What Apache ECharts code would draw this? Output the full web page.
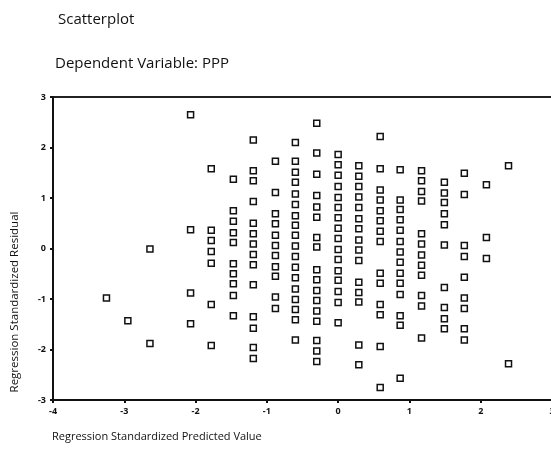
<!DOCTYPE html>
<html>
<head>
<meta charset="utf-8">
<script src="https://cdn.jsdelivr.net/npm/echarts@6/dist/echarts.min.js"></script>
<style>html,body{margin:0;padding:0;background:#fff;}#c{width:551px;height:461px;}</style>
</head>
<body>
<div id="c"></div>
<script>
// Predicted value columns (x) and residuals (y)
var predicted = [-3.25,-2.95,-2.64,-2.07,-1.78,-1.47,-1.19,-0.88,-0.60,-0.30,0.00,0.29,0.59,0.87,1.17,1.49,1.77,2.08,2.39];
var res01 = [-0.98];
var res02 = [-1.43];
var res03 = [-0.01,-1.88];
var res04 = [2.65,0.37,-0.88,-1.49];
var res05 = [1.58,0.36,0.16,-0.06,-0.29,-1.11,-1.92];
var res06 = [1.37,0.75,0.54,0.31,0.12,-0.30,-0.50,-0.70,-0.93,-1.33];
var res07 = [2.15,1.54,1.34,0.93,0.50,0.29,0.09,-0.12,-0.32,-0.72,-1.35,-1.58,-1.96,-2.18];
var res08 = [1.73,1.11,0.69,0.49,0.26,0.06,-0.14,-0.36,-0.55,-0.96,-1.19];
var res09 = [2.10,1.73,1.51,1.31,1.08,0.87,0.65,0.46,0.26,0.05,-0.16,-0.37,-0.58,-0.80,-1.01,-1.21,-1.41,-1.81];
var res10 = [2.48,1.89,1.47,1.05,0.82,0.62,0.22,0.03,-0.42,-0.62,-0.83,-1.03,-1.24,-1.44,-1.82,-2.03,-2.24];
var res11 = [1.86,1.66,1.45,1.23,1.01,0.81,0.61,0.40,0.20,-0.02,-0.22,-0.44,-0.63,-0.85,-1.07,-1.47];
var res12 = [1.64,1.43,1.23,1.02,0.81,0.59,0.39,0.17,-0.03,-0.24,-0.67,-0.87,-1.06,-1.91,-2.30];
var res13 = [2.22,1.58,1.16,0.96,0.75,0.55,0.34,0.14,-0.49,-0.69,-1.11,-1.31,-1.94,-2.75];
var res14 = [1.56,0.96,0.77,0.57,0.36,0.14,-0.07,-0.27,-0.49,-0.69,-0.91,-1.33,-1.52,-2.57];
var res15 = [1.54,1.34,1.13,0.94,0.29,0.09,-0.13,-0.33,-0.53,-0.93,-1.14,-1.77];
var res16 = [1.31,1.10,0.91,0.69,0.47,0.07,-0.77,-1.17,-1.39,-1.59];
var res17 = [1.49,1.07,0.06,-0.16,-0.57,-0.98,-1.19,-1.59,-1.81];
var res18 = [1.26,0.22,-0.20];
var res19 = [1.64,-2.28];
var residualColumns = [res01,res02,res03,res04,res05,res06,res07,res08,res09,res10,res11,res12,res13,res14,res15,res16,res17,res18,res19];

var xTicks = [-4,-3,-2,-1,0,1,2,3];
var yTicks = [-3,-2,-1,0,1,2,3];

var points = [];
predicted.forEach(function (x, i) {
  residualColumns[i].forEach(function (y) { points.push([x, y]); });
});

var FONT = '"Open Sans", sans-serif';
var chart = echarts.init(document.getElementById('c'));
chart.setOption({
  backgroundColor: '#fff',
  animation: false,
  grid: {left: 53, top: 97, right: -1, bottom: 61, show: true, borderColor: '#222', borderWidth: 2,
    backgroundColor: 'transparent', containLabel: false, outerBoundsMode: 'none'},
  xAxis: {
    type: 'value', min: xTicks[0], max: xTicks[xTicks.length - 1], interval: 1,
    axisLine: {show: true, onZero: false, lineStyle: {color: '#111', width: 2}},
    axisTick: {show: true, length: 3, lineStyle: {color: '#111', width: 2}},
    axisLabel: {color: '#111', fontSize: 9, fontWeight: 'bold', fontFamily: FONT, margin: 7},
    splitLine: {show: false}
  },
  yAxis: {
    type: 'value', min: yTicks[0], max: yTicks[yTicks.length - 1], interval: 1,
    axisLine: {show: true, onZero: false, lineStyle: {color: '#111', width: 2}},
    axisTick: {show: true, length: 3, lineStyle: {color: '#111', width: 2}},
    axisLabel: {color: '#111', fontSize: 9, fontWeight: 'bold', fontFamily: FONT, margin: 7},
    splitLine: {show: false}
  },
  graphic: [
    {type: 'text', left: 58, top: 12, style: {text: 'Scatterplot', fontSize: 15, fontFamily: FONT, fill: '#111'}},
    {type: 'text', left: 55, top: 56, style: {text: 'Dependent Variable: PPP', fontSize: 15, fontFamily: FONT, fill: '#111'}},
    {type: 'text', x: 15, y: 302, rotation: Math.PI / 2,
      style: {text: 'Regression Standardized Residual', fontSize: 11.5, fontFamily: FONT, fill: '#111', align: 'center', verticalAlign: 'middle'}},
    {type: 'text', left: 52, top: 431, style: {text: 'Regression Standardized Predicted Value', fontSize: 11, fontFamily: FONT, fill: '#111'}}
  ],
  series: [{
    type: 'scatter',
    data: points,
    symbol: 'rect',
    symbolSize: 6,
    itemStyle: {color: '#fff', borderColor: '#111', borderWidth: 1.5, opacity: 1}
  }]
});
</script>
</body>
</html>
